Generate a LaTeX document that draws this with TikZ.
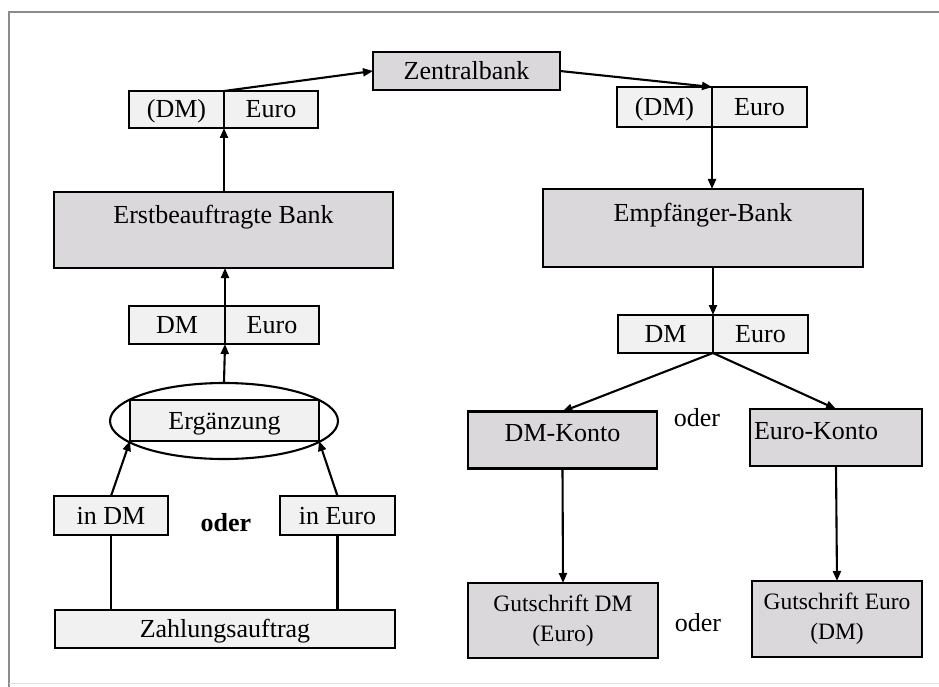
\documentclass[tikz,border=0pt]{standalone}
\usepackage{fontspec}
\setmainfont{Liberation Serif}
\usetikzlibrary{shapes.geometric,arrows.meta,positioning}
\definecolor{boxdark}{RGB}{219, 216, 219}
\definecolor{boxlight}{RGB}{241, 241, 241}
\definecolor{framegray}{RGB}{140, 140, 140}
\tikzset{
  % plain box, no fill
  box/.style={rectangle,draw,outer sep=0pt,inner sep=4pt,font=\fontsize{26}{30}\selectfont},
  % light box, fixed baseline
  lbox/.style={box,fill=boxlight,text height=20pt,text depth=3pt,minimum height=37pt},
  % grey box, fixed baseline
  gbox/.style={box,fill=boxdark,text height=20pt,text depth=3pt},
  % grey box, text near the top
  topbox/.style={box,fill=boxdark,text height=27pt,text depth=41pt},
  % grey account box
  kbox/.style={box,fill=boxdark,text height=26pt,text depth=23pt},
  % grey two-line box
  gsbox/.style={box,fill=boxdark,align=center,font=\fontsize{23.5}{30}\selectfont},
  % free text
  txt/.style={inner sep=0pt,font=\fontsize{26}{30}\selectfont},
  % arrow
  arr/.style={-{Triangle[length=10pt,width=8pt]}},
  every picture/.style={line width=2.1pt}
}
\begin{document}
\begin{tikzpicture}[x=1pt,y=-1pt]
\useasboundingbox (0,0) rectangle (939,687);
%%%%%%%%%%%%%%%%%%%%%%%%%%%%%%%%%%%%%%%
\draw[framegray,line width=1.4pt] (9,687) -- (9,12) -- (939,12);
\draw[gray!25,line width=1pt] (9,683) -- (939,683);
%%%%%%%%%%%%%%%%%%%%%%%%%%%%%%%%%%%%%%%
\node[gbox,minimum width=187pt,minimum height=38pt] (zentral) at (466.5,71) {Zentralbank};
%%%%%%%%%%%%%%%%%%%%%%%%%%%%%%%%%%%%%%% left side
\node[lbox,minimum width=95pt] (lodm) at (176.5,109.5) {(DM)};
\node[lbox,minimum width=94pt,right=0pt of lodm] (loeuro) {Euro};
\node[topbox,minimum width=339pt] (erst) at (223.5,230) {Erstbeauftragte Bank};
\node[lbox,minimum width=96pt,minimum height=38pt] (ludm) at (177,325) {DM};
\node[lbox,minimum width=94pt,minimum height=38pt,right=0pt of ludm] (lueuro) {Euro};
\node[ellipse,draw,minimum width=228pt,minimum height=76pt,inner sep=0pt] (ergell) at (224,421) {};
\node[lbox,minimum width=189pt,minimum height=41pt] (erg) at (224.5,420.5) {Ergänzung};
\node[lbox,minimum width=114pt,minimum height=39pt] (indm) at (111,515.5) {in DM};
\node[lbox,minimum width=115pt,minimum height=39pt] (ineuro) at (337.5,515.5) {in Euro};
\node[txt,font=\fontsize{26}{30}\selectfont\bfseries] (oderA) at (226,523) {oder};
\node[lbox,minimum width=340pt,minimum height=38pt] (zahl) at (225,629) {Zahlungsauftrag};
%%%%%%%%%%%%%%%%%%%%%%%%%%%%%%%%%%%%%%% right side
\node[lbox,minimum width=95pt,minimum height=40pt] (rodm) at (664.5,107) {(DM)};
\node[lbox,minimum width=95pt,minimum height=40pt,right=0pt of rodm] (roeuro) {Euro};
\node[topbox,minimum width=320pt,minimum height=78pt] (empf) at (703,228) {Empfänger-Bank};
\node[lbox,minimum width=95pt,minimum height=38pt] (rudm) at (665.5,334) {DM};
\node[lbox,minimum width=95pt,minimum height=38pt,right=0pt of rudm] (rueuro) {Euro};
\node[kbox,minimum width=189pt] (dmkonto) at (562.5,440) {DM-Konto};
\node[kbox,text width=164pt,align=left] (eurokonto) at (836,437.5) {Euro-Konto};
\node[txt] (oderB) at (697,418) {oder};
\node[gsbox,minimum width=190pt,minimum height=75pt] (gsdm) at (563,620.5) {Gutschrift DM\\(Euro)};
\node[gsbox,minimum width=170pt,minimum height=76pt] (gseuro) at (837,619) {Gutschrift Euro\\(DM)};
\node[txt] (oderC) at (698,623) {oder};
%%%%%%%%%%%%%%%%%%%%%%%%%%%%%%%%%%%%%%% connectors left
\draw[arr] (lodm.north east) -- (zentral.west);
\draw[arr] (lodm.south east |- erst.north) -- (lodm.south east);
\draw[arr] (ludm.north east) -- (ludm.north east |- erst.south);
\draw[arr] (ergell.north) -- (ludm.south east);
\draw[arr] (indm.north) -- (erg.south west);
\draw[arr] (ineuro.north) -- (erg.south east);
\draw (zahl.north -| indm.south) -- (indm.south);
\draw (zahl.north -| ineuro.south) -- (ineuro.south);
%%%%%%%%%%%%%%%%%%%%%%%%%%%%%%%%%%%%%%% connectors right
\draw[arr] (zentral.east) -- (rodm.north east);
\draw[arr] (rodm.south east) -- (rodm.south east |- empf.north);
\draw[arr] (rudm.north east |- empf.south) -- (rudm.north east);
\draw[arr] (rudm.south east) -- (dmkonto.north);
\draw[arr] (rudm.south east) -- (eurokonto.north);
\draw[arr] (dmkonto.south) -- (gsdm.north);
\draw[arr] (eurokonto.south) -- (gseuro.north);
\end{tikzpicture}
\end{document}
